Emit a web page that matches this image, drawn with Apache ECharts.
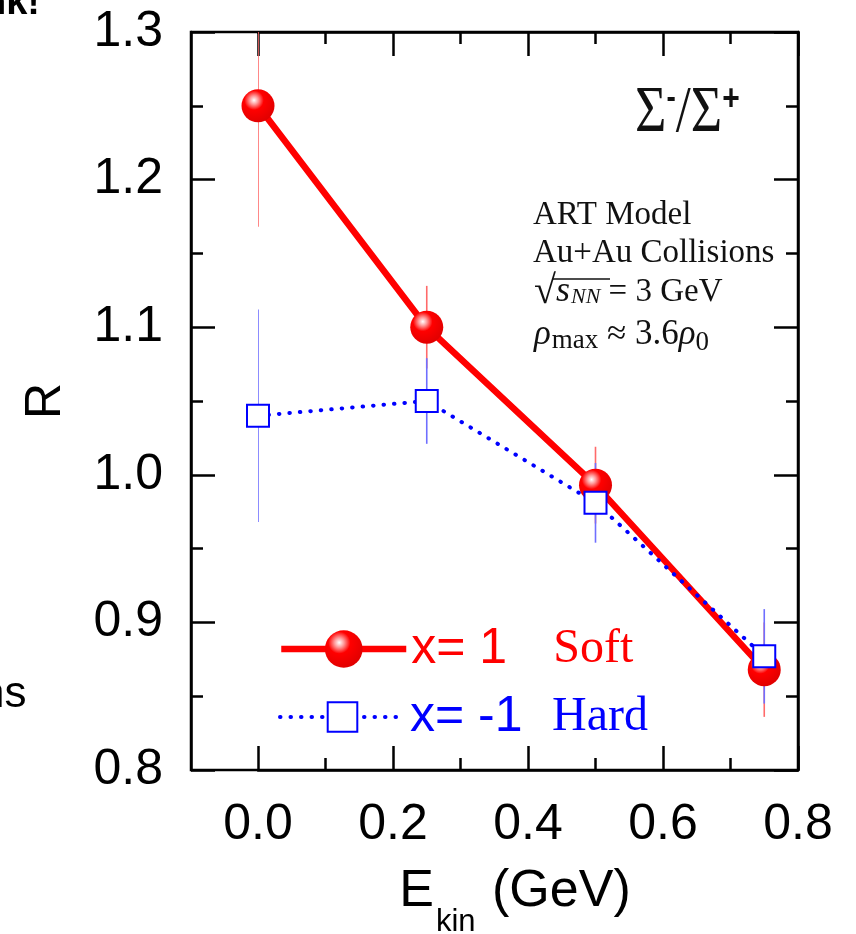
<!DOCTYPE html>
<html>
<head>
<meta charset="utf-8">
<script src="https://cdn.jsdelivr.net/npm/echarts@6/dist/echarts.min.js"></script>
<style>
  html, body { margin: 0; padding: 0; background: #fff; }
  #chart { width: 856px; height: 934px; }
</style>
</head>
<body>
<div id="chart"></div>
<script>
// 数据
const energies = [0, 0.25, 0.5, 0.75]
const softR = [1.25, 1.10, 0.993, 0.868]
const softErr = [0.082, 0.028, 0.026, 0.032]
const hardR = [1.04, 1.05, 0.981, 0.877]
const hardErr = [0.072, 0.029, 0.027, 0.032]
const xTicks = [0.0, 0.2, 0.4, 0.6, 0.8]
const yTicks = [0.8, 0.9, 1.0, 1.1, 1.2, 1.3]

const SANS = 'Liberation Sans, Arial, sans-serif'
const SERIF = 'Liberation Serif, Times New Roman, serif'

const chart = echarts.init(document.getElementById('chart'))

// 误差棒
const errorBar = (color) => (params, api) => {
  const x = api.value(0)
  const lo = api.coord([x, api.value(1)])
  const hi = api.coord([x, api.value(2)])
  return {
    type: 'line',
    shape: { x1: lo[0], y1: lo[1], x2: hi[0], y2: hi[1] },
    style: { stroke: color, lineWidth: 1.6 }
  }
}

const ballFill = {
  type: 'radial', x: 0.38, y: 0.33, r: 0.7,
  colorStops: [
    { offset: 0, color: '#ffffff' },
    { offset: 0.18, color: '#ff9a9a' },
    { offset: 0.42, color: '#ff0000' },
    { offset: 1, color: '#e00000' }
  ]
}

const tickLine = { color: '#000', width: 2.5 }
const xAxisBase = {
  type: 'value', gridIndex: 0,
  min: xTicks[0], max: xTicks[xTicks.length - 1], interval: xTicks[1] - xTicks[0],
  axisLine: { onZero: false, lineStyle: tickLine },
  axisTick: { inside: true, length: 24, lineStyle: tickLine },
  minorTick: { show: true, splitNumber: 2, length: 12, lineStyle: tickLine },
  splitLine: { show: false }
}
const yAxisBase = {
  type: 'value', gridIndex: 0,
  min: yTicks[0], max: yTicks[yTicks.length - 1], interval: 0.1,
  axisLine: { show: true, onZero: false, lineStyle: tickLine },
  axisTick: { inside: true, length: 24, lineStyle: tickLine },
  minorTick: { show: true, splitNumber: 2, length: 12, lineStyle: tickLine },
  splitLine: { show: false }
}

const option = {
  backgroundColor: '#fff',
  animation: false,
  grid: [
    { left: 258, top: 32, width: 540, height: 738, outerBoundsMode: 'none', containLabel: false },
    { left: 191, top: 32, width: 607, height: 738, outerBoundsMode: 'none', show: true, borderColor: '#000', borderWidth: 2.5 }
  ],
  xAxis: [
    {
      ...xAxisBase, position: 'bottom',
      axisLabel: { margin: 30, fontSize: 50, fontFamily: SANS, color: '#000', formatter: v => v.toFixed(1) },
      name: '{e|E}{k|kin}{e| (GeV)}',
      nameLocation: 'middle', nameGap: 96,
      nameTextStyle: {
        padding: [0, 26, 0, 0],
        rich: {
          e: { fontSize: 52, fontFamily: SANS, color: '#000', padding: [0, 0, 30, 0] },
          k: { fontSize: 31, fontFamily: SANS, color: '#000', padding: [30, 2, 0, 2] }
        }
      }
    },
    { ...xAxisBase, position: 'top', axisLabel: { show: false } },
    { type: 'value', gridIndex: 1, show: false, min: 0, max: 1 }
  ],
  yAxis: [
    {
      ...yAxisBase, position: 'left', offset: 67,
      axisLabel: { margin: 28, fontSize: 50, fontFamily: SANS, color: '#000', formatter: v => v.toFixed(1) },
      name: 'R', nameLocation: 'middle', nameGap: 120,
      nameTextStyle: { fontSize: 50, fontFamily: SANS, color: '#000' }
    },
    { ...yAxisBase, position: 'right', axisLabel: { show: false } },
    { type: 'value', gridIndex: 1, show: false, min: 0, max: 1 }
  ],
  legend: [
    {
      data: ['x= 1'], left: 273, top: 619, selectedMode: false,
      itemWidth: 125, itemHeight: 47,
      lineStyle: { width: 6.5 },
      formatter: n => `{a|${n}}{b|Soft}`,
      textStyle: {
        rich: {
          a: { fontSize: 50, fontFamily: SANS, color: '#ff0000', width: 142 },
          b: { fontSize: 48, fontFamily: SERIF, color: '#ff0000' }
        }
      }
    },
    {
      data: ['x= -1'], left: 273, top: 687, selectedMode: false,
      itemWidth: 125, itemHeight: 37,
      lineStyle: { width: 4, type: [0.5, 10], cap: 'round' },
      itemStyle: { color: '#fff', borderColor: '#0000ff', borderWidth: 2 },
      formatter: n => `{a|${n}}{b|Hard}`,
      textStyle: {
        rich: {
          a: { fontSize: 50, fontFamily: SANS, color: '#0000ff', width: 142 },
          b: { fontSize: 48, fontFamily: SERIF, color: '#0000ff' }
        }
      }
    }
  ],
  series: [
    {
      type: 'custom', name: 'softErr', clip: true, z: 1,
      renderItem: errorBar('#ff6a6a'),
      encode: { x: 0, y: [1, 2] },
      data: energies.map((x, i) => [x, softR[i] - softErr[i], softR[i] + softErr[i]])
    },
    {
      type: 'custom', name: 'hardErr', clip: true, z: 1,
      renderItem: errorBar('#6f6fff'),
      encode: { x: 0, y: [1, 2] },
      data: energies.map((x, i) => [x, hardR[i] - hardErr[i], hardR[i] + hardErr[i]])
    },
    {
      name: 'x= 1', type: 'line', z: 2,
      data: energies.map((x, i) => [x, softR[i]]),
      symbol: 'circle', symbolSize: 33,
      lineStyle: { color: '#ff0000', width: 6.5 },
      itemStyle: { color: ballFill, borderWidth: 0 }
    },
    {
      name: 'x= -1', type: 'line', z: 3,
      data: energies.map((x, i) => [x, hardR[i]]),
      symbol: 'rect', symbolSize: 22,
      lineStyle: { color: '#0000ff', width: 4, type: [0.5, 10], cap: 'round' },
      itemStyle: { color: '#fff', borderColor: '#0000ff', borderWidth: 2 }
    }
  ],
  graphic: [
    {
      type: 'text', x: 635, y: 114, scaleY: 1.2,
      style: {
        text: '{S|Σ}{p|-}{S|/Σ}{q|+}', verticalAlign: 'middle',
        rich: {
          S: { fontSize: 54, fontFamily: SERIF, fill: '#111' },
          p: { fontSize: 28, fontFamily: SANS, fill: '#111', fontWeight: 'bold', verticalAlign: 'top' },
          q: { fontSize: 30, fontFamily: SANS, fill: '#111', fontWeight: 'bold', verticalAlign: 'top' }
        }
      }
    },
    { type: 'text', x: 533, y: 215, style: { text: 'ART Model', font: '33px ' + SERIF, fill: '#111', verticalAlign: 'middle' } },
    { type: 'text', x: 533, y: 253, style: { text: 'Au+Au Collisions', font: '33px ' + SERIF, fill: '#111', verticalAlign: 'middle' } },
    {
      type: 'text', x: 534, y: 292,
      style: {
        text: '{r|√}{i|s}{n|NN}{t| = 3 GeV}', verticalAlign: 'middle',
        rich: {
          r: { fontSize: 40, fontFamily: SERIF, fill: '#111' },
          t: { fontSize: 33, fontFamily: SERIF, fill: '#111' },
          i: { fontSize: 36, fontFamily: SERIF, fontStyle: 'italic', fill: '#111' },
          n: { fontSize: 22, fontFamily: SERIF, fontStyle: 'italic', fill: '#111', padding: [11, 0, 0, 1] }
        }
      }
    },
    { type: 'line', shape: { x1: 553, y1: 279, x2: 610, y2: 279 }, style: { stroke: '#111', lineWidth: 1.6 } },
    {
      type: 'text', x: 534, y: 335,
      style: {
        text: '{i|ρ}{m|max}{t| ≈ 3.6}{i|ρ}{z|0}', verticalAlign: 'middle',
        rich: {
          t: { fontSize: 35, fontFamily: SERIF, fill: '#111' },
          i: { fontSize: 35, fontFamily: SERIF, fontStyle: 'italic', fill: '#111' },
          m: { fontSize: 27, fontFamily: SERIF, fill: '#111', padding: [12, 0, 0, 1] },
          z: { fontSize: 27, fontFamily: SERIF, fill: '#111', padding: [15, 0, 0, 0] }
        }
      }
    },
    // 左侧残留文字
    { type: 'text', x: -17, y: 4, style: { text: 'nk!', font: 'bold 38px ' + SANS, fill: '#000', verticalAlign: 'middle' } },
    { type: 'text', x: -20, y: 695, style: { text: 'ns', font: '44px ' + SANS, fill: '#000', verticalAlign: 'middle' } }
  ]
}

chart.setOption(option)
</script>
</body>
</html>
